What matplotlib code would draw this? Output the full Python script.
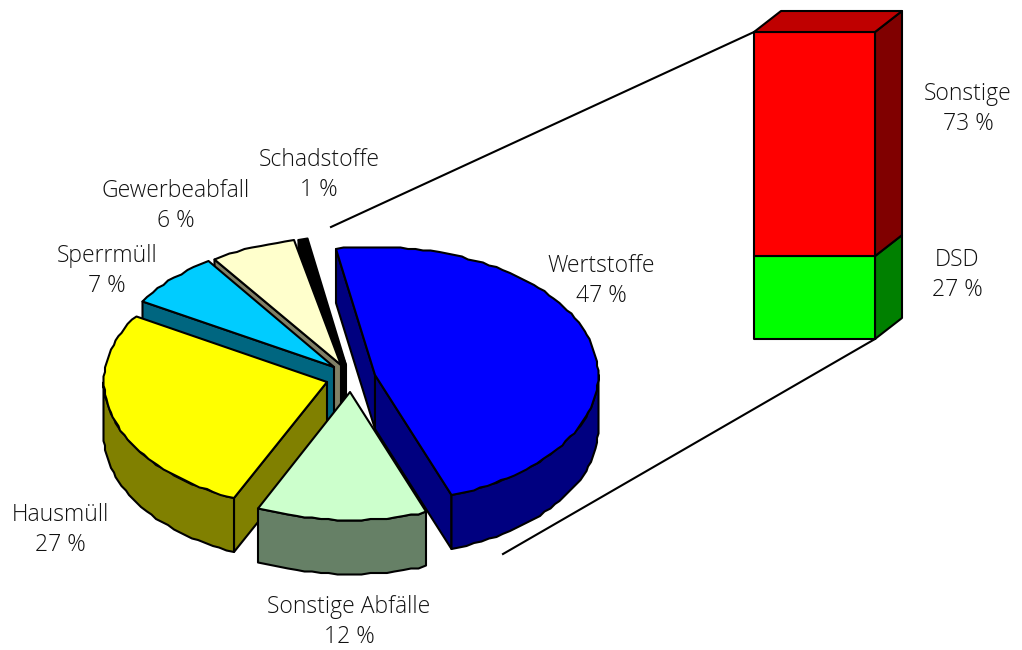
import matplotlib

matplotlib.use("Agg")
import matplotlib.pyplot as plt
import numpy as np
from matplotlib.patches import Polygon

plt.rcParams["font.family"] = ["Open Sans", "DejaVu Sans"]

# pie shares, slightly finer than the rounded labels so the slice angles fit
PIE_NAMES = ["Wertstoffe", "Sonstige Abfälle", "Hausmüll", "Sperrmüll", "Gewerbeabfall", "Schadstoffe"]
PIE_SHARES = [47.2, 12.4, 26.8, 6.8, 6.2, 0.6]
PIE_LABELS = ["47 %", "12 %", "27 %", "7 %", "6 %", "1 %"]
BAR_NAMES = ["DSD", "Sonstige"]
BAR_SHARES = [27, 73]
BAR_LABELS = ["27 %", "73 %"]

TOP_COLORS = ["#0000ff", "#ccffcc", "#ffff00", "#00ccff", "#ffffcc", "#000000"]
SIDE_COLORS = ["#000080", "#668066", "#808000", "#006680", "#808066", "#000000"]
BAR_COLORS = {"DSD": ("#00ff00", "#008000"), "Sonstige": ("#ff0000", "#800000")}
BAR_TOP_COLOR = "#bf0000"

# layout, in pixels of the output image
RX, RY, DEPTH = 223, 128, 54
START_ANGLE = -10
CENTERS = [(375, 375), (350, 392), (327, 382), (334, 367), (341, 365), (346, 365)]
DRAW_ORDER = [0, 5, 4, 3, 2, 1]
PIE_TEXT = [(601, 281), (349, 622), (60, 530), (107, 271), (176, 206), (319, 175)]
BAR_LEFT, BAR_RIGHT, BAR_TOP, BAR_BOTTOM = 754, 875, 32, 339
BAR_DX, BAR_DY = 27, -21
BAR_TEXT = [(957, 275), (968, 109)]
LW = 1.5
JAG = 1.5  # the curved edges of the original are stepped, snap them to a coarse grid


def rim(center, t1, t2, drop=0):
    """Ellipse arc between two angles (degrees, clockwise from the top)."""
    t = np.radians(np.linspace(t1, t2, max(int(abs(t2 - t1)) // 2, 2)))
    pts = np.column_stack([center[0] + RX * np.sin(t), center[1] - RY * np.cos(t)])
    return np.round(pts / JAG) * JAG + [0, drop]


def poly(ax, pts, color):
    ax.add_patch(Polygon(pts, closed=True, facecolor=color, edgecolor="black",
                         linewidth=LW, joinstyle="round"))


def draw_slice(ax, i, t1, t2):
    c = CENTERS[i]
    side = SIDE_COLORS[i]
    # cut faces, only those turned towards the viewer
    for t, normal in ((t1, t1 - 90), (t2, t2 + 90)):
        if np.cos(np.radians(normal)) < 0:
            edge = rim(c, t, t)[0]
            poly(ax, [c, edge, edge + [0, DEPTH], (c[0], c[1] + DEPTH)], side)
    # outer wall, front half only
    a, b = max(t1, 90), min(t2, 270)
    if a < b:
        poly(ax, np.vstack([rim(c, a, b), rim(c, b, a, DEPTH)]), side)
    poly(ax, np.vstack([[c], rim(c, t1, t2)]), TOP_COLORS[i])


fig = plt.figure(figsize=(10.22, 6.5), dpi=100)
ax = fig.add_axes([0, 0, 1, 1])
ax.set_xlim(0, 1022)
ax.set_ylim(650, 0)
ax.axis("off")

# connector lines sit behind everything
ax.plot([331, BAR_LEFT], [227, BAR_TOP], color="black", lw=LW)
ax.plot([503, BAR_RIGHT], [554, BAR_BOTTOM], color="black", lw=LW)

edges = START_ANGLE + np.cumsum([0] + PIE_SHARES) * 3.6
for i in DRAW_ORDER:
    draw_slice(ax, i, edges[i], edges[i + 1])

# stacked bar, bottom up
px = (BAR_BOTTOM - BAR_TOP) / sum(BAR_SHARES)
y = BAR_BOTTOM
for name, share in zip(BAR_NAMES, BAR_SHARES):
    y2 = y - share * px
    front, side = BAR_COLORS[name]
    poly(ax, [(BAR_RIGHT, y), (BAR_RIGHT + BAR_DX, y + BAR_DY),
              (BAR_RIGHT + BAR_DX, y2 + BAR_DY), (BAR_RIGHT, y2)], side)
    poly(ax, [(BAR_LEFT, y), (BAR_RIGHT, y), (BAR_RIGHT, y2), (BAR_LEFT, y2)], front)
    y = y2
poly(ax, [(BAR_LEFT, BAR_TOP), (BAR_RIGHT, BAR_TOP), (BAR_RIGHT + BAR_DX, BAR_TOP + BAR_DY),
          (BAR_LEFT + BAR_DX, BAR_TOP + BAR_DY)], BAR_TOP_COLOR)

for (x, y), name, label in zip(PIE_TEXT + BAR_TEXT, PIE_NAMES + BAR_NAMES, PIE_LABELS + BAR_LABELS):
    ax.text(x, y, f"{name}\n{label}", ha="center", va="center", fontsize=16.5, color="#111111",
            fontweight="light", linespacing=1.38)

fig.savefig("out.png", dpi=100)
